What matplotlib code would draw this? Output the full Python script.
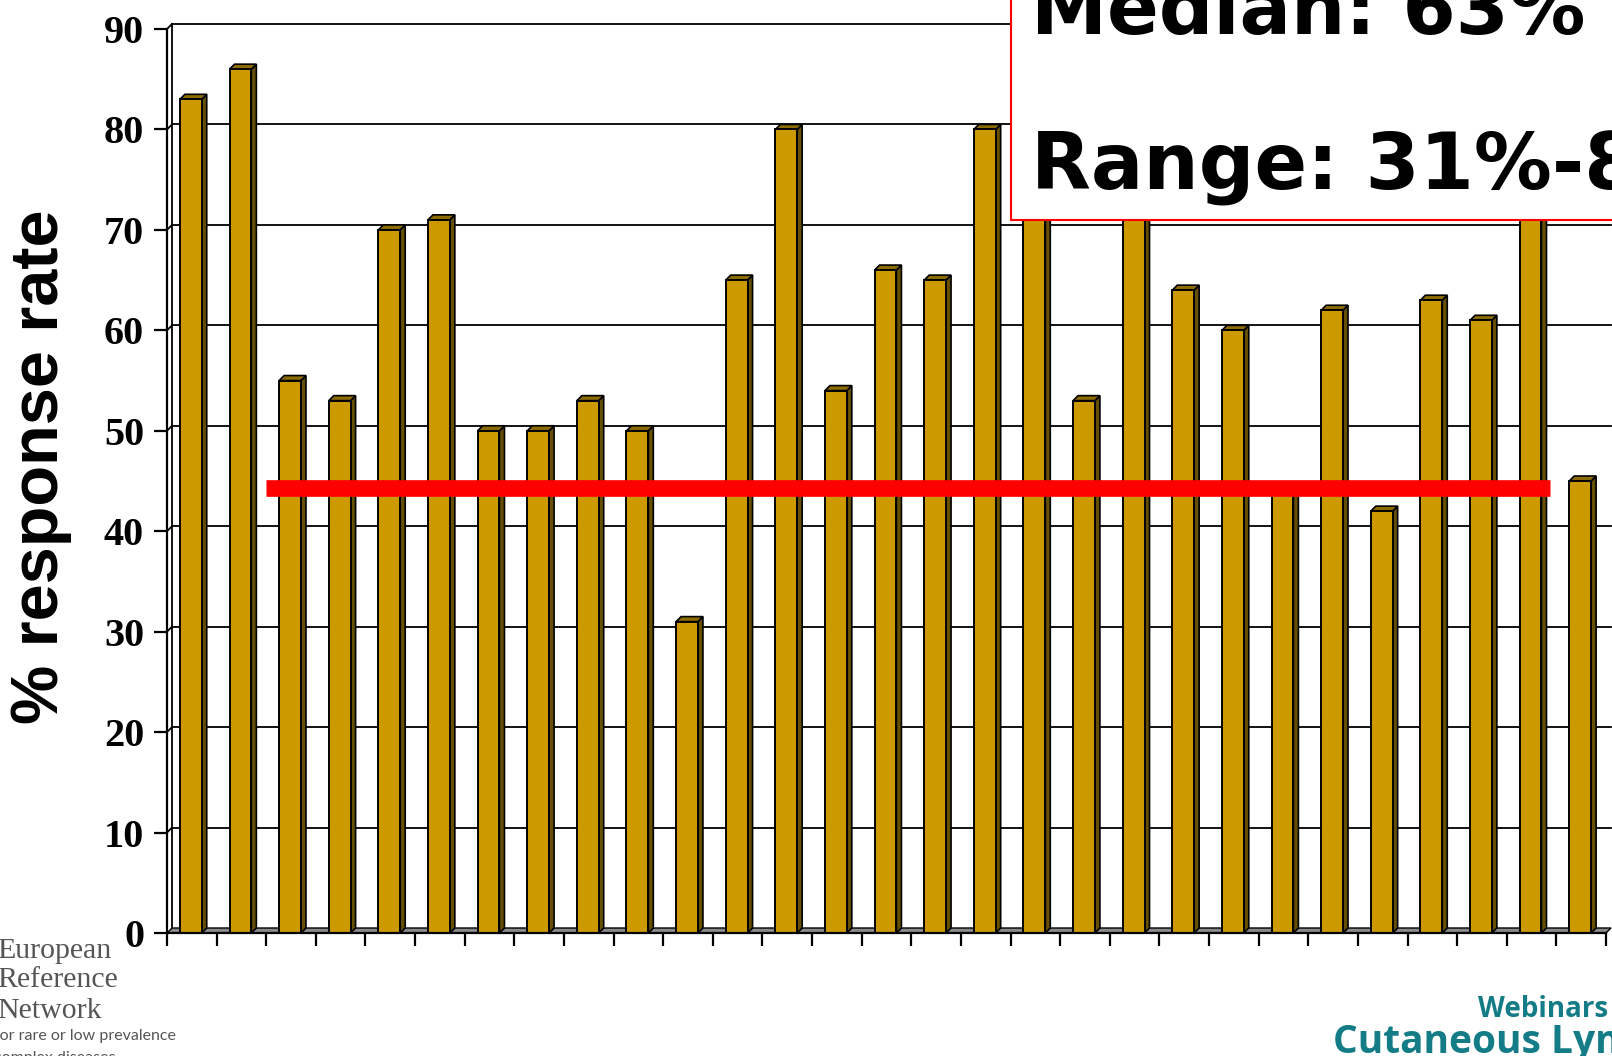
import matplotlib
matplotlib.use("Agg")
import matplotlib.pyplot as plt
from matplotlib.patches import Polygon, Rectangle

# ---- data -------------------------------------------------------------
response_rate = [83, 86, 55, 53, 70, 71, 50, 50, 53, 50, 31, 65, 80, 54, 66,
                 65, 80, 76, 53, 78, 64, 60, 44, 62, 42, 63, 61, 74, 45]
y_ticks = [0, 10, 20, 30, 40, 50, 60, 70, 80, 90]
reference_level = 44.3
reference_span = (2, 27.87)
summary_lines = ["Median: 63%", "Range: 31%-86%"]

# ---- style ------------------------------------------------------------
FRONT = "#CC9900"
SIDE = "#665000"
TOP = "#8C6B00"
FLOOR = "#8A8A8A"
TEAL = "#137C86"
W, H = 1612, 1056
DEPTH_PX = 5.0

fig = plt.figure(figsize=(W / 100, H / 100), dpi=100)
fig.patch.set_facecolor("white")

left_px, right_px, base_px, top_px = 167, 1606, 933, 29
ax = fig.add_axes([left_px / W, 1 - base_px / H,
                   (right_px - left_px) / W, (base_px - top_px) / H])
n = len(response_rate)
ax.set_xlim(0, n)
ax.set_ylim(0, 90)

# depth of the pseudo-3D offset, in data units
dx = DEPTH_PX / ((right_px - left_px) / n)
dy = DEPTH_PX / ((base_px - top_px) / 90)

for s in ("top", "right"):
    ax.spines[s].set_visible(False)
for s in ("left", "bottom"):
    ax.spines[s].set_linewidth(1.6)
    ax.spines[s].set_zorder(6)

# back wall gridlines with the short diagonals to the front wall
for v in y_ticks[1:]:
    ax.plot([dx, n + dx], [v + dy, v + dy], color="black", lw=1.3,
            zorder=1, clip_on=False)
    ax.plot([0, dx], [v, v + dy], color="black", lw=1.3, zorder=1, clip_on=False)
ax.plot([dx, dx], [dy, 90 + dy], color="black", lw=1.3, zorder=1, clip_on=False)

# floor
ax.add_patch(Polygon([(0, 0), (n, 0), (n + dx, dy), (dx, dy)], closed=True,
                     facecolor=FLOOR, edgecolor="black", lw=1.0, zorder=2,
                     clip_on=False))

# columns
bw = 0.44
xs = [i + 0.48 for i in range(n)]
ax.bar(xs, response_rate, width=bw, color=FRONT, edgecolor="black",
       linewidth=1.4, zorder=4)
for x, v in zip(xs, response_rate):
    r = x + bw / 2
    l = x - bw / 2
    ax.add_patch(Polygon([(r, 0), (r + dx, dy), (r + dx, v + dy), (r, v)],
                         closed=True, facecolor=SIDE, edgecolor="black",
                         lw=1.2, zorder=3.5, clip_on=False))
    ax.add_patch(Polygon([(l, v), (l + dx, v + dy), (r + dx, v + dy), (r, v)],
                         closed=True, facecolor=TOP, edgecolor="black",
                         lw=1.2, zorder=3.5, clip_on=False))

# reference line
ax.hlines(reference_level, *reference_span, color="#FF0000", lw=12, zorder=7)

# ticks
ax.set_xticks(range(n + 1))
ax.set_xticklabels([])
ax.tick_params(axis="x", direction="out", length=9.5, width=1.6)
ax.set_yticks(y_ticks)
ax.set_yticklabels([str(t) for t in y_ticks], fontfamily="Liberation Serif",
                   fontweight="bold", fontsize=29)
ax.tick_params(axis="y", direction="out", length=9.5, width=1.6, pad=7)

fig.text(41 / W, 1 - 467 / H, "% response rate", rotation=90,
         fontfamily="Liberation Sans", fontweight="bold", fontsize=48,
         ha="center", va="center")

# summary box (runs off the top and right edge)
fig.patches.append(Rectangle((1011 / W, 1 - 220 / H), 0.7, 0.5,
                             transform=fig.transFigure, facecolor="white",
                             edgecolor="#FF0000", lw=1.5, zorder=10))
fig.text(1031 / W, 1 - 34 / H, summary_lines[0], fontfamily="DejaVu Sans",
         fontweight="bold", fontsize=55, ha="left", va="baseline", zorder=11)
fig.text(1031 / W, 1 - 190 / H, summary_lines[1], fontfamily="DejaVu Sans",
         fontweight="bold", fontsize=56, ha="left", va="baseline", zorder=11)

# footer branding
for txt, yb in [("European", 958), ("Reference", 987), ("Network", 1018)]:
    fig.text(-3 / W, 1 - yb / H, txt, fontfamily="Liberation Serif",
             fontsize=21.5, color="#555555", ha="left", va="baseline")
fig.text(-6 / W, 1 - 1040 / H, "for rare or low prevalence",
         fontfamily="Lato", fontsize=11.5, color="#555555",
         ha="left", va="baseline")
fig.text(-6 / W, 1 - 1062 / H, "complex diseases",
         fontfamily="Lato", fontsize=11.5, color="#555555",
         ha="left", va="baseline")
fig.text(1608 / W, 1 - 1017 / H, "Webinars", fontfamily="Open Sans",
         fontweight="bold", fontsize=20, color=TEAL,
         ha="right", va="baseline")
fig.text(1333 / W, 1 - 1053 / H, "Cutaneous Lymphoma", fontfamily="Open Sans",
         fontweight="bold", fontsize=28, color=TEAL,
         ha="left", va="baseline")

fig.savefig("out.png", dpi=100)
